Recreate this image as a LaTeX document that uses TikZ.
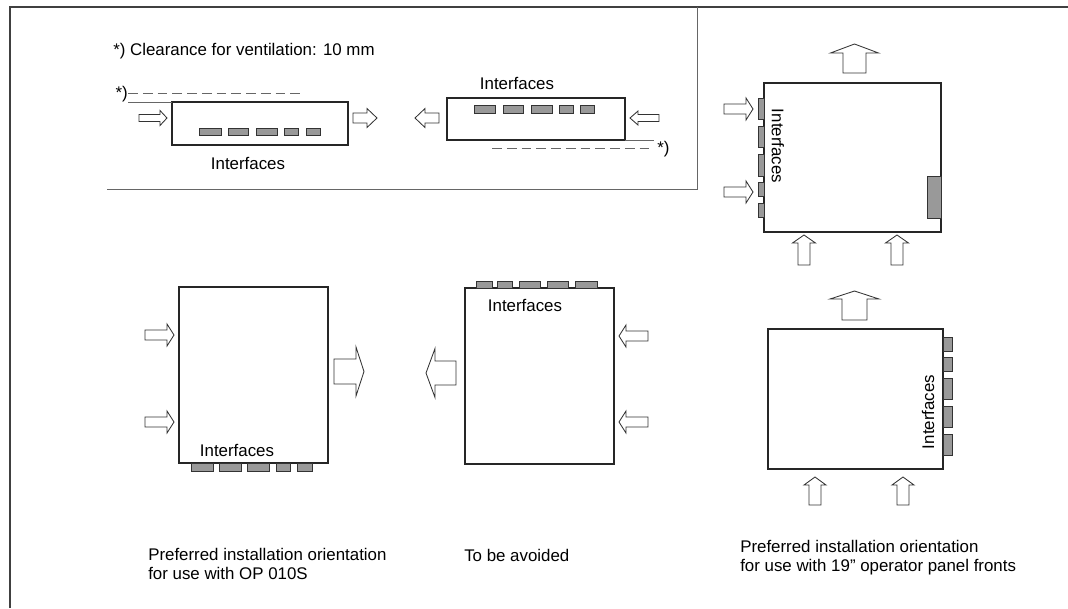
\documentclass[tikz,border=0pt]{standalone}
\usepackage{fontspec}
\setmainfont{Liberation Sans}

% hollow air-flow arrow: tail x, tail y, angle, length, shaft half width, head half width, head length
\newcommand\ventarrow[7]{%
  \draw[vent, shift={(#1,#2)}, rotate=#3] (0,-#5) -- (#4-#7,-#5) -- (#4-#7,-#6) -- (#4,0)
    -- (#4-#7,#6) -- (#4-#7,#5) -- (0,#5) -- cycle;}

\begin{document}
\begin{tikzpicture}[x=0.025cm, y=-0.025cm,
    every node/.style={font=\fontsize{12}{13.5}\selectfont, inner sep=0pt},
    frame/.style={draw=black!75, line width=1.4pt},
    panel/.style={draw=black!60, line width=0.6pt},
    unit/.style={draw=black!85, line width=0.9pt},
    port/.style={draw=black!80, fill=black!40, line width=0.6pt},
    vent/.style={draw=black!80, fill=white, line width=0.6pt},
    clearance/.style={draw=black!60, dash pattern=on 7pt off 3.5pt, line width=0.6pt}]
    \useasboundingbox (0,0) rectangle (1068,608);
    \draw[frame] (10,608) -- (10,7) -- (1068,7);
    \draw[panel] (107,189) -- (697,189) -- (697,7);

    % clearance note
    \node[anchor=west] (note) at (113,51) {*) Clearance for ventilation: 10 mm};

    % horizontal unit, interfaces below
    \draw[unit] (172,102) rectangle (348,145);
    \foreach \a/\b in {199/221, 228/248, 256/277, 284/298, 306/320}
        \draw[port] (\a,128) rectangle (\b,135);
    \draw[panel] (128,102) -- (172,102);
    \draw[clearance] (128,93) -- (300,93);
    \node[anchor=east] (astA) at (128,94) {*)};
    \ventarrow{139}{118}{0}{28}{3.5}{7.5}{7}
    \ventarrow{353}{118}{0}{24}{5}{9.5}{10}
    \node (ifA) at (248,163) {Interfaces};

    % horizontal unit, interfaces above
    \draw[unit] (447,98) rectangle (625,140);
    \foreach \a/\b in {474/495, 503/523, 531/552, 559/573, 580/594}
        \draw[port] (\a,105) rectangle (\b,113);
    \draw[panel] (625,140) -- (654,140);
    \draw[clearance] (492,148) -- (653,148);
    \node[anchor=west] (astB) at (657,149) {*)};
    \ventarrow{439}{118}{180}{24}{5}{9.5}{10}
    \ventarrow{659}{118}{180}{29}{3.5}{7}{8}
    \node (ifB) at (517,83) {Interfaces};

    % upright unit, interfaces left
    \draw[unit] (764,83) rectangle (941,232);
    \foreach \a/\b in {98/119, 126/147, 154/176, 182/196, 203/217}
        \draw[port] (758,\a) rectangle (764,\b);
    \draw[port] (927,176) rectangle (941,218);
    \node[rotate=-90] (ifC) at (778,146) {Interfaces};
    \ventarrow{854.5}{73}{90}{29}{11.5}{24}{9}
    \ventarrow{724}{109}{0}{29}{5}{11}{7}
    \ventarrow{724}{192}{0}{29}{5}{11}{7}
    \ventarrow{804}{265}{90}{30}{6}{11.5}{8}
    \ventarrow{897}{265}{90}{30}{6}{11.5}{8}

    % upright unit, interfaces right
    \draw[unit] (768,329) rectangle (943,469);
    \foreach \a/\b in {337/351, 357/371, 378/399, 406/427, 434/455}
        \draw[port] (943,\a) rectangle (952,\b);
    \node[rotate=90] (ifD) at (928,412) {Interfaces};
    \ventarrow{854.5}{320}{90}{29}{12.5}{24.5}{8}
    \ventarrow{815}{505}{90}{28}{6}{11}{8}
    \ventarrow{903}{505}{90}{28}{6}{11}{8}

    % vertical unit, interfaces at the bottom
    \draw[unit] (179,287) rectangle (328,463);
    \foreach \a/\b in {191/213, 219/241, 247/269, 276/290, 297/312}
        \draw[port] (\a,463) rectangle (\b,471);
    \node (ifE) at (237,450) {Interfaces};
    \ventarrow{145}{335}{0}{29}{5}{11}{7}
    \ventarrow{145}{422}{0}{29}{5}{11}{7}
    \ventarrow{334}{371.5}{0}{30}{12.5}{24.5}{8}

    % vertical unit, interfaces at the top
    \draw[unit] (465,288) rectangle (614,464);
    \foreach \a/\b in {476/492, 497/512, 519/540, 547/568, 575/597}
        \draw[port] (\a,281) rectangle (\b,288);
    \node (ifF) at (525,305) {Interfaces};
    \ventarrow{456}{373}{180}{30}{12}{24.5}{9}
    \ventarrow{648}{336}{180}{29}{5}{11}{7}
    \ventarrow{648}{422}{180}{29}{5}{11}{7}

    % captions
    \node[anchor=west, align=left] (capA) at (148,564) {Preferred installation orientation\\for use with OP 010S};
    \node[anchor=west] (capB) at (464,555) {To be avoided};
    \node[anchor=west, align=left] (capC) at (740,558) {Preferred installation orientation\\for use with 19'' operator panel fronts};
\end{tikzpicture}
\end{document}
